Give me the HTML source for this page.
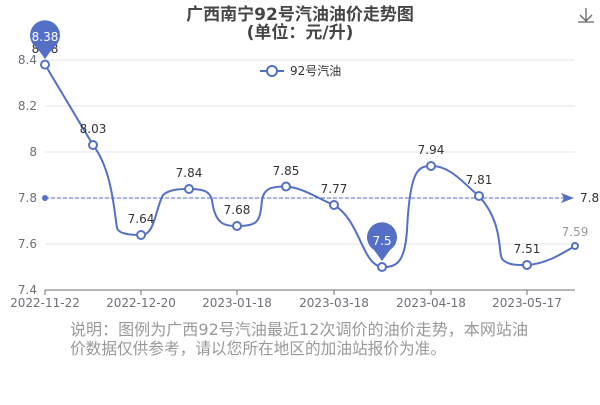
<!DOCTYPE html>
<html><head><meta charset="utf-8"><style>
body{margin:0;background:#fff;width:600px;height:400px;overflow:hidden}
</style></head><body>
<svg width="600" height="400" xmlns="http://www.w3.org/2000/svg" font-family="DejaVu Sans, Noto Sans CJK SC, sans-serif">
<text x="300" y="20" text-anchor="middle" font-size="17" font-weight="bold" fill="#464646" font-family="DejaVu Sans, Noto Sans CJK SC, sans-serif">广西南宁92号汽油油价走势图</text>
<text x="300" y="38" text-anchor="middle" font-size="17" font-weight="bold" fill="#464646">(单位：元/升)</text>
<g stroke="#666" fill="none" stroke-width="1.3"><path d="M586 8v12M580 15l6 6 6-6M578 22h16"/></g>
<g stroke="#e0e6f1" stroke-width="1">
<line x1="45" y1="60" x2="575" y2="60"/><line x1="45" y1="106" x2="575" y2="106"/><line x1="45" y1="152" x2="575" y2="152"/><line x1="45" y1="198" x2="575" y2="198"/><line x1="45" y1="244" x2="575" y2="244"/></g>
<line x1="45" y1="290" x2="575" y2="290" stroke="#6e7079"/>
<g stroke="#6e7079"><line x1="45" y1="290" x2="45" y2="295"/><line x1="141" y1="290" x2="141" y2="295"/><line x1="237" y1="290" x2="237" y2="295"/><line x1="334" y1="290" x2="334" y2="295"/><line x1="431" y1="290" x2="431" y2="295"/><line x1="527" y1="290" x2="527" y2="295"/></g>
<g font-size="12" fill="#6e7079" text-anchor="end"><text x="37" y="64">8.4</text><text x="37" y="110">8.2</text><text x="37" y="156">8</text><text x="37" y="202">7.8</text><text x="37" y="248">7.6</text><text x="37" y="294">7.4</text></g>
<g font-size="12" fill="#6e7079" text-anchor="middle"><text x="45" y="307">2022-11-22</text><text x="141" y="307">2022-12-20</text><text x="237" y="307">2023-01-18</text><text x="334" y="307">2023-03-18</text><text x="431" y="307">2023-04-18</text><text x="527" y="307">2023-05-17</text></g>
<line x1="45" y1="198" x2="566" y2="198" stroke="#5470c6" stroke-dasharray="4,2"/>
<circle cx="45" cy="198" r="3" fill="#5470c6"/>
<path d="M561 193l13 5-13 5 3-5z" fill="#5470c6"/>
<text x="580" y="202" font-size="12" fill="#333">7.8</text>
<path d="M45 64.6 L93 145 C112 170 114 210 117 228 C119 235 135 235 141 235 C155 235 155 210 163 195 C170 189 180 189 189 189 C205 189 210 192 212 200 C215 225 225 226 237 226 C258 226 260 222 262 200 C264 188 272 186.5 286 186.5 C305 188 320 200 334 205 C360 220 362 265 382 267 C398 268 405 260 407 230 C410 170 418 166 431 166 C450 165 465 185 479 196 C505 225 497 255 503 260 C510 266 520 265 527 265 C545 264 560 255 575 246" fill="none" stroke="#5470c6" stroke-width="2"/>
<g fill="#fff" stroke="#5470c6" stroke-width="2">
<circle cx="45" cy="64.6" r="4"/><circle cx="93" cy="145" r="4"/><circle cx="141" cy="235" r="4"/><circle cx="189" cy="189" r="4"/><circle cx="237" cy="226" r="4"/><circle cx="286" cy="186.5" r="4"/><circle cx="334" cy="205" r="4"/><circle cx="382" cy="267" r="4"/><circle cx="431" cy="166" r="4"/><circle cx="479" cy="196" r="4"/><circle cx="527" cy="265" r="4"/><circle cx="575" cy="246" r="3"/></g>
<g font-size="12" fill="#333" text-anchor="middle"><text x="93" y="133">8.03</text><text x="141" y="223">7.64</text><text x="189" y="177">7.84</text><text x="237" y="214">7.68</text><text x="286" y="175">7.85</text><text x="334" y="193">7.77</text><text x="431" y="154">7.94</text><text x="479" y="184">7.81</text><text x="527" y="253">7.51</text><text x="575" y="236" fill="#999">7.59</text></g>
<text x="45" y="53" font-size="12" fill="#333" text-anchor="middle">8.38</text>
<path d="M45 59 L37 48 A15 15 0 1 1 53 48 Z" fill="#5470c6"/>
<text x="45" y="41" font-size="12" fill="#fff" text-anchor="middle">8.38</text>
<path d="M382 261 L374 250 A15 15 0 1 1 390 250 Z" fill="#5470c6"/>
<text x="382" y="245" font-size="12" fill="#fff" text-anchor="middle">7.5</text>
<line x1="260" y1="71" x2="284" y2="71" stroke="#5470c6" stroke-width="2"/>
<circle cx="272" cy="71" r="5" fill="#fff" stroke="#5470c6" stroke-width="2"/>
<text x="290" y="75" font-size="12" fill="#333">92号汽油</text>
<text x="70" y="335" font-size="16" fill="#999" textLength="458" lengthAdjust="spacingAndGlyphs">说明：图例为广西92号汽油最近12次调价的油价走势，本网站油</text>
<text x="70" y="354" font-size="16" fill="#999" textLength="376" lengthAdjust="spacingAndGlyphs">价数据仅供参考，请以您所在地区的加油站报价为准。</text>
</svg>
</body></html>
